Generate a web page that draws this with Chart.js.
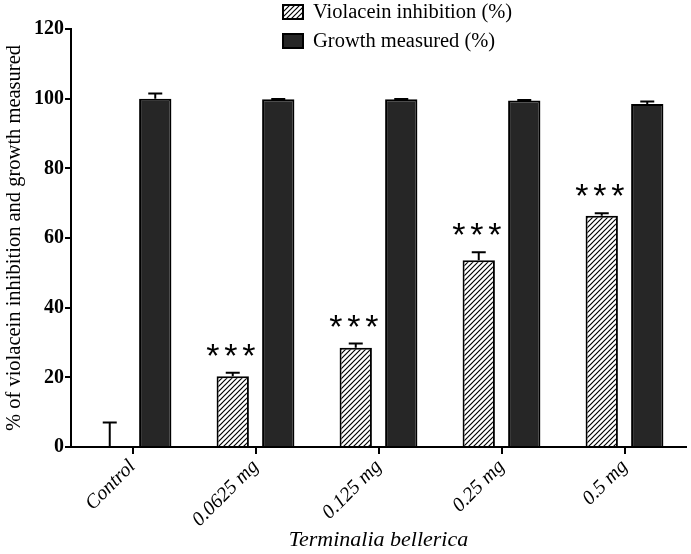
<!DOCTYPE html>
<html>
<head>
<meta charset="utf-8">
<script src="https://cdn.jsdelivr.net/npm/chart.js@4.4.1/dist/chart.umd.min.js"></script>
<style>
html,body{margin:0;padding:0;background:#fff;}
#c{display:block;}
</style>
</head>
<body>
<canvas id="c" width="691" height="554"></canvas>
<script>
const categories = ['Control', '0.0625 mg', '0.125 mg', '0.25 mg', '0.5 mg'];
const violacein = [0, 20.3, 28.5, 53.6, 66.4];
const violaceinErr = [7, 1, 1.2, 2.3, 0.7];
const growth = [100, 99.8, 99.8, 99.5, 98.5];
const growthErr = [1.5, 0.1, 0.1, 0.1, 0.7];
const significance = ['', '***', '***', '***', '***'];
const yTicks = [0, 20, 40, 60, 80, 100, 120];
const seriesLabels = ['Violacein inhibition (%)', 'Growth measured (%)'];

function makeHatch() {
  const p = document.createElement('canvas');
  p.width = 5; p.height = 5;
  const g = p.getContext('2d');
  g.fillStyle = '#fff';
  g.fillRect(0, 0, 5, 5);
  g.strokeStyle = '#000';
  g.lineWidth = 1.2;
  g.beginPath();
  g.moveTo(0, 5); g.lineTo(5, 0);
  g.moveTo(-1, 1); g.lineTo(1, -1);
  g.moveTo(4, 6); g.lineTo(6, 4);
  g.stroke();
  return document.getElementById('c').getContext('2d').createPattern(p, 'repeat');
}
const hatch = makeHatch();
const serif = "'Liberation Serif', 'Times New Roman', serif";

const errPlugin = {
  id: 'errbars',
  afterDatasetsDraw(chart) {
    const ctx = chart.ctx;
    const ys = chart.scales.y;
    const errs = [violaceinErr, growthErr];
    ctx.save();
    ctx.strokeStyle = '#000';
    ctx.lineWidth = 2;
    chart.data.datasets.forEach((ds, i) => {
      const meta = chart.getDatasetMeta(i);
      meta.data.forEach((el, j) => {
        const v = ds.data[j];
        const top = ys.getPixelForValue(v + errs[i][j]);
        const base = ys.getPixelForValue(v);
        ctx.beginPath();
        ctx.moveTo(el.x, base);
        ctx.lineTo(el.x, top);
        ctx.moveTo(el.x - 7, top);
        ctx.lineTo(el.x + 7, top);
        ctx.stroke();
        if (i === 0 && significance[j]) {
          ctx.fillStyle = '#000';
          ctx.font = "34px 'Liberation Sans', sans-serif";
          ctx.textAlign = 'center';
          ctx.textBaseline = 'alphabetic';
          const stars = significance[j].split('');
          stars.forEach((s, k) => {
            const dx = (k - (stars.length - 1) / 2) * 18;
            ctx.fillText(s, el.x - 2 + dx, top - 6);
          });
        }
      });
    });
    ctx.restore();
  }
};

const legendPlugin = {
  id: 'customLegend',
  afterDraw(chart) {
    const ctx = chart.ctx;
    ctx.save();
    const rows = [{y: 12}, {y: 41}];
    chart.data.datasets.forEach((ds, i) => {
      const y = rows[i].y;
      ctx.fillStyle = ds.backgroundColor;
      ctx.fillRect(283, y - 7, 20, 14);
      ctx.strokeStyle = '#000';
      ctx.lineWidth = 2;
      ctx.strokeRect(283, y - 7, 20, 14);
      ctx.fillStyle = '#000';
      ctx.font = "20.5px " + serif;
      ctx.textAlign = 'left';
      ctx.textBaseline = 'middle';
      ctx.fillText(ds.label, 313, y + 1);
    });
    ctx.restore();
  }
};

new Chart(document.getElementById('c'), {
  type: 'bar',
  data: {
    labels: categories,
    datasets: [
      {label: seriesLabels[0], data: violacein, backgroundColor: hatch, borderColor: '#000', borderWidth: 2,
       barPercentage: 0.71, categoryPercentage: 0.74},
      {label: seriesLabels[1], data: growth, backgroundColor: '#262626', borderColor: '#000', borderWidth: 2,
       barPercentage: 0.71, categoryPercentage: 0.74}
    ]
  },
  options: {
    responsive: false,
    devicePixelRatio: 1,
    animation: false,
    layout: {padding: {top: 29, right: 5, left: 0, bottom: 0}},
    plugins: {legend: {display: false}, tooltip: {enabled: false}},
    scales: {
      x: {
        grid: {display: true, drawOnChartArea: false, offset: false, color: '#000', lineWidth: 2, tickLength: 7},
        border: {display: true, color: '#000', width: 2},
        ticks: {color: '#000', maxRotation: 45, minRotation: 45, padding: 1,
                font: {family: serif, size: 20, style: 'italic'}},
        title: {display: true, text: 'Terminalia bellerica', color: '#000', padding: {top: 0, bottom: 1},
                font: {family: serif, size: 22, style: 'italic'}},
        afterFit(s) { s.height = 107; }
      },
      y: {
        min: 0, max: 120,
        afterBuildTicks(s) { s.ticks = yTicks.map(v => ({value: v})); },
        grid: {display: true, drawOnChartArea: false, color: '#000', lineWidth: 2, tickLength: 6},
        border: {display: true, color: '#000', width: 2},
        ticks: {color: '#000', padding: 1, font: {family: serif, size: 20, weight: 'bold'}},
        title: {display: true, text: '% of violacein inhibition and growth measured', color: '#000',
                padding: {top: 2, bottom: 0}, font: {family: serif, size: 20.5}},
        afterFit(s) { s.width = 71; }
      }
    }
  },
  plugins: [errPlugin, legendPlugin]
});
</script>
</body>
</html>
